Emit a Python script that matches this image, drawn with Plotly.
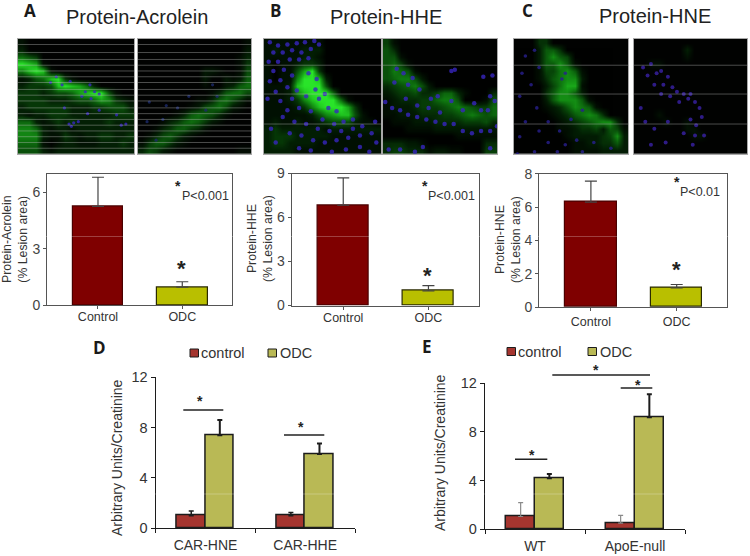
import plotly.graph_objects as go

W, H = 750, 556
FONT = "Liberation Sans"

# bar values
GROUPS_TOP = ["Control", "ODC"]
ACROLEIN = [5.25, 0.97]
ACROLEIN_ERR = [1.55, 0.28]
HHE = [6.85, 1.0]
HHE_ERR = [1.85, 0.35]
HNE = [6.3, 1.15]
HNE_ERR = [1.25, 0.2]

D_GROUPS = ["CAR-HNE", "CAR-HHE"]
D_CONTROL = [1.0, 1.0]
D_CONTROL_ERR = [0.38, 0.25]
D_ODC = [7.4, 5.9]
D_ODC_ERR = [1.2, 0.83]

E_GROUPS = ["WT", "ApoE-null"]
E_CONTROL = [1.05, 0.5]
E_CONTROL_ERR = [1.15, 0.65]
E_ODC = [4.2, 9.2]
E_ODC_ERR = [0.35, 1.9]

# micrographs: green intensity 0-9, nuclei in image units 0-100 (y down)
A1_GREEN = ["1000000000000000", "2000000000000000", "5430000000000000", "9871000000000000",
            "6898100000000000", "1245893100000000", "2333489875200000", "3332344578994100",
            "3333222344576321", "2333333222334442", "2122333222222333", "5521232322223222",
            "6652122122222222", "6662113212233223", "5551012211122232", "4442122222222222"]
A1_CELLS = [(33, 33), (38, 40), (45, 37), (62, 40), (58, 46), (66, 46), (55, 50), (63, 52), (70, 48), (44, 74),
            (48, 73), (52, 72), (46, 76), (89, 75), (93, 74), (60, 65), (70, 62), (28, 38), (85, 66), (40, 60)]
A2_GREEN = ["0000000000000001", "0000000000000002", "0000000000000013", "0000000000000014",
            "0000000002210015", "0000000002002126", "0000000001002367", "0000000000136775",
            "0000000011367531", "0000000125675210", "0000013676531000", "0001346764210000",
            "0013466431000000", "0135642100000000", "1466421000000000", "3542100000000011"]
A2_CELLS = [(10, 55), (25, 58), (35, 60), (45, 50), (60, 62), (70, 50), (8, 72), (22, 70), (66, 40), (16, 88)]
B1_GREEN = ["1111111100000000", "1211122200000000", "1111122100000000", "1011233200000000",
            "1011479300000000", "1011699820000000", "1112899940000000", "1112689995000000",
            "1112368999510000", "1111236899973000", "1111112467884100", "1211211234442110",
            "2322222212222222", "2333222221111111", "2332222111111111", "2222111111111111"]
B1_CELLS = [(5, 3), (12, 6), (20, 5), (28, 4), (35, 3), (43, 2), (47, 5), (8, 12), (16, 12), (24, 10), (32, 12),
            (40, 9), (4, 20), (12, 20), (22, 18), (30, 18), (38, 17), (8, 28), (17, 27), (5, 37), (14, 36), (24, 32),
            (10, 46), (20, 42), (28, 45), (3, 52), (14, 54), (24, 52), (36, 50), (44, 44), (38, 30), (45, 35),
            (47, 52), (52, 48), (55, 60), (62, 63), (20, 62), (30, 60), (40, 63), (50, 70), (60, 74), (68, 72),
            (76, 70), (16, 68), (26, 72), (36, 74), (46, 78), (56, 80), (66, 80), (76, 78), (84, 76), (95, 72),
            (6, 78), (10, 90), (22, 82), (32, 84), (42, 88), (52, 90), (62, 88), (72, 86), (82, 84), (92, 82),
            (30, 95), (40, 97), (58, 98), (70, 96), (82, 94), (90, 98), (96, 90)]
B2_GREEN = ["4100000000000000", "5300000000000000", "5510000000000000", "5641000000000000",
            "5765100000000000", "5677520000000000", "3456752000000000", "2344533466310003",
            "1233344677500015", "1222344456765446", "1122233344567656", "0111222333344453",
            "0001111222222222", "0000000000111111", "3332210000000033", "3443331221100044"]
B2_CELLS = [(12, 26), (18, 30), (10, 38), (26, 34), (22, 40), (32, 44), (2, 55), (8, 60), (15, 62), (22, 66),
            (30, 68), (38, 70), (46, 72), (54, 74), (62, 74), (70, 80), (78, 82), (86, 80), (94, 80), (100, 76),
            (30, 58), (40, 60), (50, 64), (20, 52), (42, 52), (48, 50), (60, 54), (70, 62), (80, 56), (86, 62),
            (92, 62), (60, 28), (63, 27), (88, 33), (96, 32), (94, 50), (98, 54), (5, 96), (15, 96), (28, 98),
            (35, 94), (94, 95)]
C1_GREEN = ["0003300000000000", "0002553000000000", "0002575400000000", "0002557510000000",
            "0001446751000000", "0001356772000000", "0000246881000000", "0000357752000000",
            "0000257775100000", "0000123576510000", "0000012356763000", "0000001234567730",
            "0000001123342541", "0000000122223472", "0000000011223352", "0000000011112222"]
C1_CELLS = [(7, 30), (15, 40), (5, 50), (20, 60), (10, 72), (22, 80), (5, 85), (30, 72), (40, 80), (30, 90), (45, 92),
            (55, 88), (38, 98), (60, 98), (70, 90), (85, 95), (18, 10), (10, 15), (22, 25), (42, 35), (45, 30),
            (60, 62), (50, 70), (3, 100), (18, 98)]
C2_GREEN = ["0000000000000000", "0000000200000000", "0000000100000000", "0011000000000000",
            "0000000000000000", "0000000000000000", "0000000000000000", "0000000000000000",
            "0000000000000000", "0000000000000000", "0001000000000000", "0000100100000000",
            "0000000110000000", "0000000011000000", "0000000000000000", "0000000000000000"]
C2_CELLS = [(8, 25), (15, 22), (12, 32), (20, 30), (24, 28), (18, 40), (26, 40), (30, 33), (34, 42), (24, 48),
            (32, 50), (38, 46), (44, 48), (50, 48), (48, 52), (40, 55), (54, 55), (58, 60), (60, 68), (50, 70),
            (55, 75), (30, 72), (10, 72), (18, 78), (6, 60), (44, 82), (54, 84), (62, 84), (52, 92), (28, 90), (15, 92)]

SCAN_DENSE = [5, 12, 18, 23, 28, 33, 38, 44, 49, 54, 60, 65, 70, 75, 80, 85, 90, 95]
SCAN_SPARSE = [23, 48, 74]

GREEN_SCALE = [[0, "#010201"], [0.22, "#031f04"], [0.5, "#0b5a0c"], [0.75, "#169a16"], [1, "#2ae42a"]]

fig = go.Figure()
axis_no = 0


def xd(left, right):
    return [left / W, right / W]


def yd(top, bottom):
    return [1 - bottom / H, 1 - top / H]


def new_axes(left, right, top, bottom):
    global axis_no
    axis_no += 1
    suffix = "" if axis_no == 1 else str(axis_no)
    return axis_no, suffix, xd(left, right), yd(top, bottom)


def label(text, x, y, size, color="#333333", bold=False, angle=0, family=FONT):
    fig.add_annotation(text="<b>%s</b>" % text if bold else text, x=x / W, y=1 - y / H, xref="paper", yref="paper",
                       showarrow=False, textangle=angle, xanchor="center", yanchor="middle",
                       font=dict(family=family, size=size, color=color))


def star(x, y, size):
    # the asterisk glyph sits high in its line box
    label("*", x, y + size * 0.22, size, color="#222222", bold=True)


def rule(x0, x1, y):
    fig.add_shape(type="line", xref="paper", yref="paper", x0=x0 / W, x1=x1 / W, y0=1 - y / H, y1=1 - y / H,
                  line=dict(color="#222222", width=1.5))


def micrograph(left, right, green, cells, scan, cell_col="#3826c0", cell_size=3.6, zmax=9):
    n, s, dx, dy = new_axes(left, right, 38.7, 154)
    xa, ya = "x" + s, "y" + s
    centres = [(i + 0.5) * 100 / 16 for i in range(16)]
    fig.add_trace(go.Heatmap(z=[[int(c) for c in row] for row in green], x=centres, y=centres, zmin=0, zmax=zmax,
                             colorscale=GREEN_SCALE, showscale=False, zsmooth="best", xaxis=xa, yaxis=ya))
    fig.add_trace(go.Scatter(x=[c[0] for c in cells], y=[c[1] for c in cells], mode="markers",
                             marker=dict(color=cell_col, size=cell_size), opacity=0.8, xaxis=xa, yaxis=ya))
    sx, sy = [], []
    for v in scan:
        sx += [0, 100, None]
        sy += [v, v, None]
    fig.add_trace(go.Scatter(x=sx, y=sy, mode="lines", line=dict(color="rgba(190,190,190,0.4)", width=1),
                             xaxis=xa, yaxis=ya))
    common = dict(showgrid=False, zeroline=False, showticklabels=False, ticks="", showline=True, mirror=True,
                  linecolor="#a8a8a8", linewidth=1)
    fig.update_layout({"xaxis" + s: dict(domain=dx, range=[0, 100], anchor=ya, **common),
                       "yaxis" + s: dict(domain=dy, range=[100, 0], anchor=xa, **common)})


def top_panel(left, right, top, bottom, values, errs, ymax, dtick, standoff):
    n, s, dx, dy = new_axes(left, right, top, bottom)
    xa, ya = "x" + s, "y" + s
    fig.add_trace(go.Bar(x=GROUPS_TOP, y=values, width=0.6, xaxis=xa, yaxis=ya,
                         marker=dict(color=["#7f0000", "#b9bf00"], line=dict(color=["#4a0000", "#2a2a00"], width=1.2)),
                         error_y=dict(type="data", symmetric=False, array=errs, arrayminus=[0, 0], color="#444444",
                                      thickness=1.2, width=6)))
    line = dict(showline=True, linecolor="#555555", linewidth=1, mirror=True, showgrid=False, zeroline=False,
                ticks="outside", tickcolor="#555555", ticklen=3)
    fig.update_layout({
        "xaxis" + s: dict(domain=dx, range=[-0.605, 1.59], anchor=ya, type="category", ticklabelstandoff=standoff,
                          tickfont=dict(family=FONT, size=12.5, color="#333333"), **line),
        "yaxis" + s: dict(domain=dy, range=[0, ymax], dtick=dtick, anchor=xa,
                          tickfont=dict(family=FONT, size=14, color="#444444"), **line),
    })


def lower_panel(left, right, top, bottom, groups, control, control_err, odc, odc_err, ctrl_err_col, ctrl_err_w):
    n, s, dx, dy = new_axes(left, right, top, bottom)
    xa, ya = "x" + s, "y" + s
    edge = dict(color="#1c1c1c", width=1.5)
    fig.add_trace(go.Bar(x=groups, y=control, name="control", width=0.287, offset=-0.287, xaxis=xa, yaxis=ya,
                         marker=dict(color="#a5352f", line=edge),
                         error_y=dict(type="data", symmetric=False, array=control_err, arrayminus=[0, 0],
                                      color=ctrl_err_col, thickness=ctrl_err_w, width=2.5)))
    fig.add_trace(go.Bar(x=groups, y=odc, name="ODC", width=0.287, offset=0, xaxis=xa, yaxis=ya,
                         marker=dict(color="#b9b955", line=edge),
                         error_y=dict(type="data", symmetric=False, array=odc_err, arrayminus=[0, 0],
                                      color="#1c1c1c", thickness=2, width=2.5)))
    line = dict(showline=True, linecolor="#1c1c1c", linewidth=1.3, showgrid=False, zeroline=False, ticks="outside",
                tickcolor="#1c1c1c", ticklen=4)
    fig.update_layout({
        "xaxis" + s: dict(domain=dx, range=[-0.5, 1.5], anchor=ya, type="category", tickson="boundaries",
                          ticklabelstandoff=4, tickfont=dict(family=FONT, size=14, color="#333333"), **line),
        "yaxis" + s: dict(domain=dy, range=[0, 12], dtick=4, anchor=xa,
                          tickfont=dict(family=FONT, size=14.5, color="#333333"), **line),
    })


def legend_row(x_ctrl, x_odc, y):
    for x, col, text, tx in ((x_ctrl, "#a5352f", "control", x_ctrl + 32.5), (x_odc, "#b9b955", "ODC", x_odc + 27.5)):
        fig.add_shape(type="rect", xref="paper", yref="paper", x0=x / W, x1=(x + 8.5) / W, y0=1 - (y + 4) / H,
                      y1=1 - (y - 4) / H, fillcolor=col, line=dict(color="#1c1c1c", width=1))
        label(text, tx, y, 14.5)


# micrographs
micrograph(18, 134, A1_GREEN, A1_CELLS, SCAN_DENSE, cell_size=3.2)
micrograph(138, 251, A2_GREEN, A2_CELLS, SCAN_DENSE, cell_col="#1c2a6a", cell_size=3.2, zmax=12)
micrograph(264, 381, B1_GREEN, B1_CELLS, SCAN_SPARSE, cell_size=4.5)
micrograph(383, 497, B2_GREEN, B2_CELLS, SCAN_SPARSE[:1], cell_size=4.5, zmax=11)
micrograph(514, 628, C1_GREEN, C1_CELLS, SCAN_SPARSE, cell_col="#28208f", zmax=10)
micrograph(634, 747, C2_GREEN, C2_CELLS, SCAN_SPARSE, cell_col="#3a22a8", cell_size=4)

# bar panels
top_panel(47, 232, 173.5, 305.3, ACROLEIN, ACROLEIN_ERR, 7, 3, -3)
top_panel(291.7, 478.7, 173.5, 305.5, HHE, HHE_ERR, 9, 3, -3)
top_panel(539, 727.3, 173.7, 307, HNE, HNE_ERR, 8, 2, 0)
lower_panel(155.7, 355, 377.3, 528.3, D_GROUPS, D_CONTROL, D_CONTROL_ERR, D_ODC, D_ODC_ERR, "#1c1c1c", 1.5)
lower_panel(485, 685, 383.3, 529.3, E_GROUPS, E_CONTROL, E_CONTROL_ERR, E_ODC, E_ODC_ERR, "#8a8a8a", 1.2)

# faint scan lines that cross the bars
for y in (236.5, 494):
    fig.add_shape(type="line", xref="paper", yref="paper", x0=0, x1=1, y0=1 - y / H, y1=1 - y / H,
                  line=dict(color="rgba(255,255,255,0.25)", width=1))

# panel letters and titles
for text, x, y in (("A", 30, 11), ("B", 275.5, 11), ("C", 527.5, 11), ("D", 99.5, 347.5), ("E", 427, 346.5)):
    label(text, x, y, 17, color="#1a1a1a", bold=True, family="Open Sans")
label("Protein-Acrolein", 136.5, 16.7, 20, color="#222222")
label("Protein-HHE", 386, 16.7, 20, color="#222222")
label("Protein-HNE", 654.5, 16.3, 20, color="#222222")

# y titles
label("Protein-Acrolein<br>(% Lesion area)", 15, 239, 12.3, angle=-90)
label("Protein-HHE<br>(% Lesion area)", 260, 239, 12.3, angle=-90)
label("Protein-HNE<br>(% Lesion area)", 508, 240, 12.3, angle=-90)
label("Arbitrary Units/Creatinine", 117, 458, 14, angle=-90)
label("Arbitrary Units/Creatinine", 440, 453, 14, angle=-90)

# p values and stars on the top panels
label("P&lt;0.001", 205, 196, 12.5)
label("P&lt;0.001", 451.7, 196, 12.5)
label("P&lt;0.01", 700, 192.3, 12.5)
star(178, 183.3, 14)
star(424.7, 183.3, 14)
star(676.7, 179.3, 14)
star(181.7, 263.3, 22)
star(427.7, 271, 22)
star(676, 264.3, 22)

# significance brackets
rule(183.3, 223.3, 410)
star(200, 398, 14)
rule(284, 324.3, 435)
star(300.7, 423.7, 14)
rule(515, 547.3, 459.3)
star(532, 451.7, 14)
rule(620.7, 652.3, 388)
star(638, 381.7, 14)
rule(552.3, 650, 375)
star(596, 367, 14)

legend_row(190, 268, 353)
legend_row(507, 588, 351.5)

fig.update_layout(width=W, height=H, margin=dict(l=0, r=0, t=0, b=0, autoexpand=False), paper_bgcolor="white",
                  plot_bgcolor="rgba(0,0,0,0)", showlegend=False, barmode="overlay", bargap=0)
fig.write_html("out.html", config={"displayModeBar": False}, post_script="document.body.style.margin = '0';")
